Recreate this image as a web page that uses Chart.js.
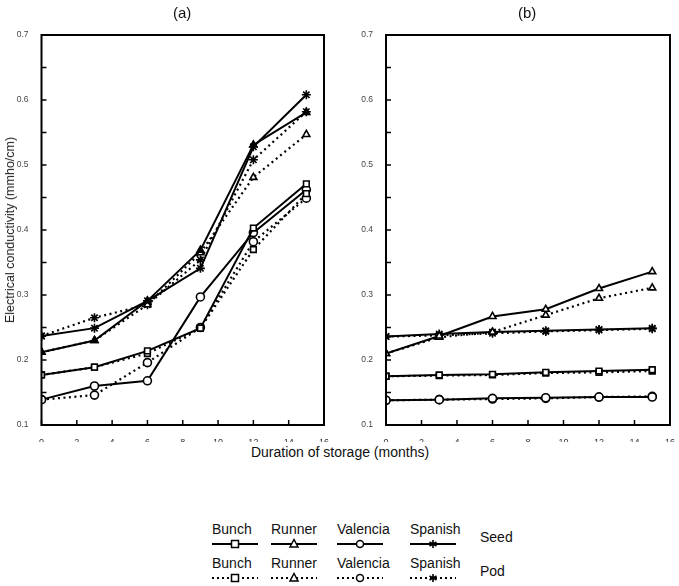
<!DOCTYPE html>
<html>
<head>
<meta charset="utf-8">
<script src="https://cdn.jsdelivr.net/npm/chart.js@4.4.0/dist/chart.umd.min.js"></script>
<style>
  body { margin: 0; background: #fff; font-family: "Liberation Sans", Arial, sans-serif; }
  #page { position: relative; width: 679px; height: 586px; overflow: hidden; }
  .box { position: absolute; top: 0; height: 442px; }
  #boxA { left: 0; width: 340px; }
  #boxB { left: 345px; width: 334px; }
  .panelTitle { position: absolute; top: 4px; font-size: 15px; color: #111; }
  #yTitle { position: absolute; left: 10px; top: 230px; transform: translate(-50%, -50%) rotate(-90deg);
            font-size: 12.5px; white-space: nowrap; color: #222; }
  #xTitle { position: absolute; left: 340px; top: 444px; transform: translateX(-50%); font-size: 14px; color: #111; white-space: nowrap; }
  .lg { position: absolute; font-size: 14px; color: #111; white-space: nowrap; }
  .lg svg { display: block; }
</style>
</head>
<body>
<div id="page">
  <div class="box" id="boxA"><canvas id="chartA"></canvas></div>
  <div class="box" id="boxB"><canvas id="chartB"></canvas></div>
  <div class="panelTitle" style="left:173px">(a)</div>
  <div class="panelTitle" style="left:518px">(b)</div>
  <div id="yTitle">Electrical conductivity (mmho/cm)</div>
  <div id="xTitle">Duration of storage (months)</div>
  <div id="legend"></div>
</div>
<script>
// mois de stockage
const months = [0, 3, 6, 9, 12, 15];

// Panneau (a)
const seedBunchA    = [0.177, 0.189, 0.214, 0.249, 0.403, 0.471];
const podBunchA     = [0.177, 0.189, 0.210, 0.249, 0.370, 0.456];
const seedRunnerA   = [0.212, 0.230, 0.291, 0.369, 0.531, 0.581];
const podRunnerA    = [0.212, 0.230, 0.285, 0.365, 0.481, 0.547];
const seedValenciaA = [0.139, 0.160, 0.168, 0.297, 0.396, 0.462];
const podValenciaA  = [0.139, 0.146, 0.196, 0.250, 0.382, 0.449];
const seedSpanishA  = [0.237, 0.249, 0.291, 0.341, 0.528, 0.608];
const podSpanishA   = [0.237, 0.265, 0.285, 0.354, 0.508, 0.582];

// Panneau (b)
const seedBunchB    = [0.175, 0.177, 0.178, 0.181, 0.183, 0.185];
const podBunchB     = [0.175, 0.176, 0.177, 0.180, 0.181, 0.183];
const seedRunnerB   = [0.210, 0.237, 0.267, 0.278, 0.310, 0.336];
const podRunnerB    = [0.210, 0.235, 0.243, 0.269, 0.295, 0.311];
const seedValenciaB = [0.138, 0.139, 0.141, 0.142, 0.143, 0.143];
const podValenciaB  = [0.138, 0.139, 0.140, 0.141, 0.143, 0.144];
const seedSpanishB  = [0.236, 0.240, 0.243, 0.245, 0.247, 0.249];
const podSpanishB   = [0.236, 0.238, 0.241, 0.244, 0.246, 0.248];

const yTicks = [0.1, 0.2, 0.3, 0.4, 0.5, 0.6, 0.7];
const xTicks = [0, 2, 4, 6, 8, 10, 12, 14, 16];

const markers = { Bunch: 'rect', Runner: 'triangle', Valencia: 'circle', Spanish: 'star' };

function makeSet(variety, values, pod, filled) {
    return {
        label: variety + (pod ? ' pod' : ' seed'),
        data: months.map((m, i) => ({ x: m, y: values[i] })),
        borderColor: '#000',
        borderWidth: pod ? 2.2 : 2,
        borderDash: pod ? [2, 3.5] : [],
        pointStyle: markers[variety],
        pointRadius: variety === 'Spanish' ? 4.5 : 4,
        pointBorderWidth: 1.6,
        pointBorderColor: '#000',
        pointBackgroundColor: filled ? '#000' : '#fff',
        tension: 0
    };
}

// cadre noir et graduations vers l'intérieur
const framePlugin = {
    id: 'frame',
    afterDraw(chart) {
        const { ctx, chartArea: a, scales } = chart;
        ctx.save();
        ctx.strokeStyle = '#000';
        ctx.lineWidth = 2;
        ctx.strokeRect(a.left, a.top, a.right - a.left, a.bottom - a.top);
        ctx.lineWidth = 1.5;
        for (let v = 0.1; v <= 0.7001; v += 0.05) {
            const y = scales.y.getPixelForValue(v);
            ctx.beginPath();
            ctx.moveTo(a.left, y);
            ctx.lineTo(a.left + 5, y);
            ctx.stroke();
        }
        xTicks.forEach(v => {
            const x = scales.x.getPixelForValue(v);
            ctx.beginPath();
            ctx.moveTo(x, a.bottom);
            ctx.lineTo(x, a.bottom - 5);
            ctx.stroke();
        });
        ctx.restore();
    }
};

function createChart(canvasId, datasets, yWidth, padRight) {
    const ctx = document.getElementById(canvasId).getContext('2d');
    return new Chart(ctx, {
        type: 'line',
        data: { datasets: datasets },
        options: {
            responsive: true,
            maintainAspectRatio: false,
            animation: false,
            layout: { padding: { top: 35, right: padRight, bottom: 0, left: 0 } },
            plugins: { legend: { display: false }, tooltip: { enabled: false } },
            scales: {
                x: {
                    type: 'linear', min: 0, max: 16,
                    afterBuildTicks: s => { s.ticks = xTicks.map(v => ({ value: v })); },
                    afterFit: s => { s.height = 17; },
                    grid: { display: false },
                    border: { display: false },
                    ticks: { color: '#333', font: { size: 9, family: 'Liberation Sans' }, padding: 4, maxRotation: 0 }
                },
                y: {
                    min: 0.1, max: 0.7,
                    afterBuildTicks: s => { s.ticks = yTicks.map(v => ({ value: v })); },
                    afterFit: s => { s.width = yWidth; },
                    grid: { display: false },
                    border: { display: false },
                    ticks: { color: '#444', font: { size: 8.5, family: 'Liberation Sans' }, padding: 5,
                             callback: v => v.toFixed(1) }
                }
            }
        },
        plugins: [framePlugin]
    });
}

createChart('chartA', [
    makeSet('Bunch', seedBunchA, false), makeSet('Bunch', podBunchA, true),
    makeSet('Runner', seedRunnerA, false, true), makeSet('Runner', podRunnerA, true),
    makeSet('Valencia', seedValenciaA, false), makeSet('Valencia', podValenciaA, true),
    makeSet('Spanish', seedSpanishA, false), makeSet('Spanish', podSpanishA, true)
], 41.5, 16);

createChart('chartB', [
    makeSet('Bunch', seedBunchB, false), makeSet('Bunch', podBunchB, true),
    makeSet('Runner', seedRunnerB, false), makeSet('Runner', podRunnerB, true),
    makeSet('Valencia', seedValenciaB, false), makeSet('Valencia', podValenciaB, true),
    makeSet('Spanish', seedSpanishB, false), makeSet('Spanish', podSpanishB, true)
], 41, 7);

// Légende en HTML
function markerSvg(variety) {
    if (variety === 'Bunch') return '<rect x="19.5" y="3.5" width="7" height="7" fill="#fff" stroke="#000" stroke-width="1.5"/>';
    if (variety === 'Runner') return '<polygon points="23,2.5 27,10 19,10" fill="#fff" stroke="#000" stroke-width="1.5"/>';
    if (variety === 'Valencia') return '<circle cx="23" cy="7" r="3.5" fill="#fff" stroke="#000" stroke-width="1.5"/>';
    return '<path d="M23 3 V11 M19.5 5 L26.5 9 M26.5 5 L19.5 9" stroke="#000" stroke-width="1.6"/>';
}

const legendCols = [['Bunch', 212], ['Runner', 271], ['Valencia', 337], ['Spanish', 410]];
const legend = document.getElementById('legend');
[[false, 521], [true, 555]].forEach(([pod, top]) => {
    legendCols.forEach(([variety, left]) => {
        const el = document.createElement('div');
        el.className = 'lg';
        el.style.left = left + 'px';
        el.style.top = top + 'px';
        const dash = pod ? 'stroke-dasharray="2 3"' : '';
        el.innerHTML = variety +
            '<svg width="48" height="14"><line x1="0" y1="7" x2="46" y2="7" stroke="#000" stroke-width="2" ' + dash + '/>' +
            markerSvg(variety) + '</svg>';
        legend.appendChild(el);
    });
    const side = document.createElement('div');
    side.className = 'lg';
    side.style.left = '480px';
    side.style.top = (top + 8) + 'px';
    side.textContent = pod ? 'Pod' : 'Seed';
    legend.appendChild(side);
});
</script>
</body>
</html>
